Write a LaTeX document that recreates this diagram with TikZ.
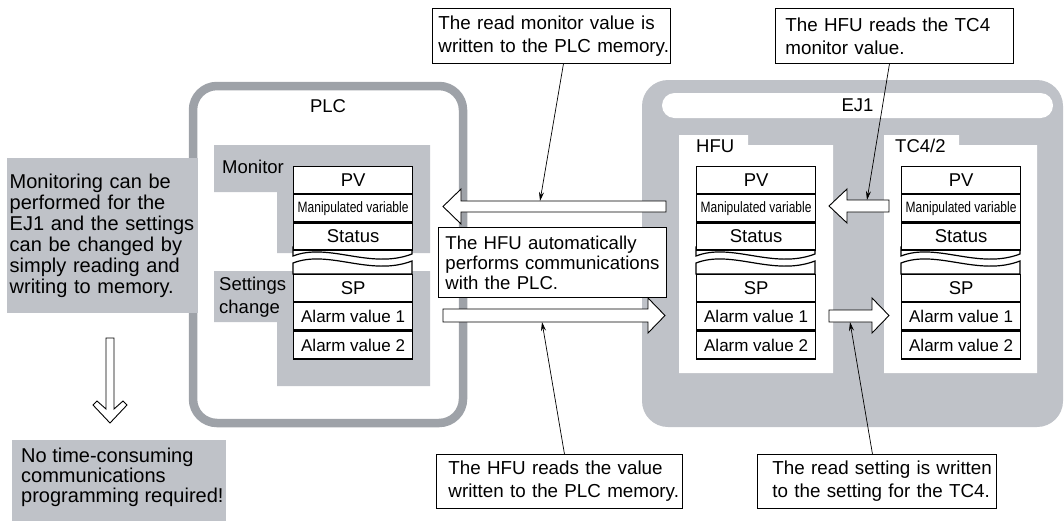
\documentclass[tikz,border=0pt]{standalone}
\usepackage{fontspec}
\usepackage{graphicx}
\setmainfont{Liberation Sans}
\usetikzlibrary{arrows.meta}
\definecolor{panel}{RGB}{191,194,200}
\definecolor{frame}{RGB}{158,162,168}
\tikzset{
  cell/.style={draw=black, line width=1.2pt, fill=white, minimum width=119pt, minimum height=27pt, inner sep=0pt, font=\fontsize{18.5}{18.5}\selectfont},
  alarmf/.style={font=\fontsize{17}{17}\selectfont},
  notebox/.style={draw=black, line width=0.9pt, fill=white, align=left, font=\fontsize{18.8}{23}\selectfont, anchor=north west, inner ysep=0pt},
  graybox/.style={fill=panel, align=left, font=\fontsize{20}{21}\selectfont, inner ysep=0pt},
  ptr/.style={line width=0.7pt, -{Stealth[length=9pt,width=5pt]}},
  blockarrow/.style={draw=black, line width=0.9pt, fill=white, line join=miter},
  titletext/.style={font=\fontsize{18.5}{18.5}\selectfont, inner sep=0pt},
  brk/.style={draw=black, line width=1.2pt, fill=white},
}
\newcommand{\mvtext}{\scalebox{0.8}[1]{\fontsize{15}{15}\selectfont Manipulated variable}}
\newcommand{\memtable}[2]{%
  \filldraw[brk] (#2,247) -- (#2,256) .. controls (#2+36,242) and (#2+77,270) .. (#2+119,254) -- (#2+119,247) -- cycle;
  \filldraw[brk] (#2,274) -- (#2,263) .. controls (#2+36,249) and (#2+77,277) .. (#2+119,261) -- (#2+119,274) -- cycle;
  \node[cell, anchor=north west] (#1pv) at (#2,166) {PV};
  \node[cell, anchor=north] (#1mv) at (#1pv.south) {\mvtext};
  \node[cell, anchor=north] (#1st) at (#1mv.south) {Status};
  \node[cell, anchor=north west] (#1sp) at (#2,274) {SP};
  \node[cell, alarmf, anchor=north] (#1aa) at (#1sp.south) {Alarm value 1};
  \node[cell, alarmf, anchor=north, minimum height=28pt] (#1ab) at (#1aa.south) {Alarm value 2};
}
\begin{document}
\begin{tikzpicture}[x=1pt,y=-1pt]
\useasboundingbox (0,0) rectangle (1064,520);
% EJ1 unit
\fill[panel, rounded corners=26pt] (642,80) rectangle (1063,427);
\node[fill=white, rounded corners=12.5pt, minimum width=391pt, minimum height=25pt, inner sep=0pt, font=\fontsize{18.5}{18.5}\selectfont] (ej1) at (857.5,105.5) {EJ1};
\fill[white] (679,135) -- (748,135) -- (748,145) -- (833,145) -- (833,373) -- (679,373) -- cycle;
\fill[white] (884,135) -- (959,135) -- (959,145) -- (1037,145) -- (1037,373) -- (884,373) -- cycle;
\node[titletext, anchor=base west] (hfu) at (696,152) {HFU};
\node[titletext, anchor=base west] (tc) at (895,152) {TC4/2};
% PLC
\draw[frame, line width=8.5pt, rounded corners=24pt] (193,86) rectangle (463,423);
\node[titletext, anchor=base] (plc) at (328,112) {PLC};
\fill[panel] (214,145) -- (430,145) -- (430,253) -- (277,253) -- (277,192) -- (214,192) -- cycle;
\fill[panel] (214,271) -- (430,271) -- (430,386) -- (277,386) -- (277,322) -- (214,322) -- cycle;
\node[titletext, anchor=base west] (mon) at (222,173) {Monitor};
\node[titletext, anchor=base west] (set1) at (219,290) {Settings};
\node[titletext, anchor=base west] (set2) at (219,313) {change};
% memory tables
\memtable{plc}{293}
\memtable{hfu}{696}
\memtable{tc}{901}
% left explanation
\node[graybox, anchor=north west, minimum width=191pt, minimum height=155pt, text width=186pt, inner xsep=2.5pt] (monbox) at (7,158)
  {\mbox{Monitoring can be}\\\mbox{performed for the}\\\mbox{EJ1 and the settings}\\\mbox{can be changed by}\\\mbox{simply reading and}\\\mbox{writing to memory.}};
% down arrow
\draw[blockarrow] (106,338) -- (114,338) -- (114,409) -- (123,401) -- (127,405) -- (110,423) -- (93,405) -- (97,401) -- (106,409) -- cycle;
\node[fill=panel, minimum width=214pt, minimum height=85pt, anchor=north west, inner sep=0pt] (nobg) at (12,440) {};
\node[anchor=north west, align=left, inner sep=0pt, font=\fontsize{20}{20}\selectfont] (noprog) at (21,448)
  {No time-consuming\\communications\\programming required!};
% middle box
\node[notebox, text width=214pt, inner xsep=7pt, minimum height=70pt, font=\fontsize{18.6}{20}\selectfont] (auto) at (438,227)
  {\mbox{The HFU automatically}\\\mbox{performs communications}\\\mbox{with the PLC.}};
% block arrows
\draw[blockarrow] (666,201) -- (461,201) -- (461,189) -- (443,206.5) -- (461,224) -- (461,212) -- (666,212) -- cycle;
\draw[blockarrow] (443,309) -- (648,309) -- (648,298) -- (665,315.5) -- (648,333) -- (648,322) -- (443,322) -- cycle;
\draw[blockarrow] (889,200) -- (847,200) -- (847,189) -- (829,206) -- (847,223) -- (847,212) -- (889,212) -- cycle;
\draw[blockarrow] (829,310) -- (872,310) -- (872,298) -- (889,315.5) -- (872,333) -- (872,322) -- (829,322) -- cycle;
% callouts
\node[notebox, text width=226pt, inner xsep=6pt, minimum height=55pt] (n1) at (432,8)
  {\mbox{The read monitor value is}\\\mbox{written to the PLC memory.}};
\node[notebox, text width=218pt, inner xsep=10pt, minimum height=55pt] (n2) at (775,8)
  {\mbox{The HFU reads the TC4}\\\mbox{monitor value.}};
\node[notebox, text width=222pt, inner xsep=12pt, minimum height=54pt] (n3) at (436,454)
  {\mbox{The HFU reads the value}\\\mbox{written to the PLC memory.}};
\node[notebox, text width=209pt, inner xsep=15pt, minimum height=54pt] (n4) at (757,454)
  {\mbox{The read setting is written}\\\mbox{to the setting for the TC4.}};
\coordinate (t1) at (540,201);
\coordinate (t2) at (867,200);
\coordinate (t3) at (542,322);
\coordinate (t4) at (850,322);
\draw[ptr] ([xshift=12pt]n1.south) -- (t1);
\draw[ptr] ([xshift=-5pt]n2.south) -- (t2);
\draw[ptr] ([xshift=5pt]n3.north) -- (t3);
\draw[ptr] ([xshift=-4.5pt]n4.north) -- (t4);
\end{tikzpicture}
\end{document}
